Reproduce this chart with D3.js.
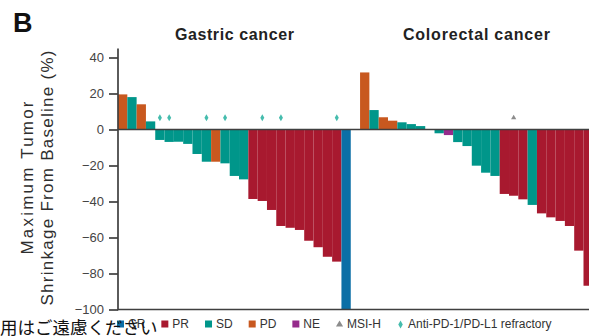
<!DOCTYPE html>
<html>
<head>
<meta charset="utf-8">
<script src="https://cdn.jsdelivr.net/npm/d3@7"></script>
<style>
  html, body { margin: 0; padding: 0; background: #fff; }
  svg { display: block; font-family: "Liberation Sans", Arial, sans-serif; }
</style>
</head>
<body>
<svg id="chart" width="589" height="336"></svg>
<script>
// Best change from baseline (%) per patient, sorted within each cohort
const gastricValues = [19.5, 18, 14, 4.5, -5.8, -6.9, -6.8, -8, -13.6, -17.9, -17.9, -18.8, -25.8, -27.7,
  -38.6, -39.7, -44.7, -53.6, -54.6, -55.8, -61.8, -65.4, -70.7, -73.4, -100];
const gastricResponse = ["PD", "SD", "PD", "SD", "SD", "SD", "SD", "SD", "SD", "SD", "PD", "SD", "SD", "SD",
  "PR", "PR", "PR", "PR", "PR", "PR", "PR", "PR", "PR", "PR", "CR"];
const gastricRefractory = [4, 5, 9, 11, 15, 17, 23];

const colorectalValues = [31.7, 10.8, 6.8, 4.9, 4, 3, 1.9, 0, -2.1, -3.1, -7, -9.2, -20.1, -24, -25.8,
  -35.8, -36.8, -38.8, -41.9, -46.6, -48.8, -50.8, -53.6, -67.3, -86.8];
const colorectalResponse = ["PD", "SD", "PD", "PD", "SD", "SD", "SD", "SD", "SD", "NE", "SD", "SD", "SD", "SD", "SD",
  "PR", "PR", "PR", "SD", "PR", "PR", "PR", "PR", "PR", "PR"];
const colorectalMSIH = [16];

const panelTitles = ["Gastric cancer", "Colorectal cancer"];
const yTicks = [-100, -80, -60, -40, -20, 0, 20, 40];
const legendKeys = ["CR", "PR", "SD", "PD", "NE", "MSI-H", "Anti-PD-1/PD-L1 refractory"];

const colors = { CR: "#0b6fa6", PR: "#a8192f", SD: "#00968a", PD: "#c8581f", NE: "#962b8c" };
const markerColors = { "MSI-H": "#8c8c8c", "Anti-PD-1/PD-L1 refractory": "#45bcad" };

// One continuous slot axis: 25 gastric slots, a spacer, then the colorectal slots
const gap = 1;
const rows = [];
gastricValues.forEach((v, i) => rows.push({ slot: i, value: v, resp: gastricResponse[i],
  refractory: gastricRefractory.includes(i), msih: false }));
colorectalValues.forEach((v, i) => rows.push({ slot: gastricValues.length + gap + i, value: v,
  resp: colorectalResponse[i], refractory: false, msih: colorectalMSIH.includes(i) }));
const nSlots = gastricValues.length + gap + colorectalValues.length + 1;

const svg = d3.select("#chart");
const left = 118;
const x = d3.scaleBand().domain(d3.range(nSlots)).range([left, left + nSlots * 9.31]).paddingInner(0);
const y = d3.scaleLinear().domain([-100, 45]).range([309.5, 48.5]);
const right = 589;

// Bars
svg.append("g").selectAll("rect").data(rows).join("rect")
  .attr("x", d => x(d.slot))
  .attr("width", x.bandwidth())
  .attr("y", d => Math.min(y(d.value), y(0)))
  .attr("height", d => Math.abs(y(d.value) - y(0)))
  .attr("fill", d => colors[d.resp]);

// Markers above the bars
const markerY = y(6.5);
svg.append("g").selectAll("path.ref").data(rows.filter(d => d.refractory)).join("path")
  .attr("class", "ref")
  .attr("transform", d => `translate(${x(d.slot) + x.bandwidth() / 2},${markerY})`)
  .attr("d", d3.symbol(d3.symbolDiamond, 14))
  .attr("fill", markerColors["Anti-PD-1/PD-L1 refractory"]);
svg.append("g").selectAll("path.msi").data(rows.filter(d => d.msih)).join("path")
  .attr("class", "msi")
  .attr("transform", d => `translate(${x(d.slot) + x.bandwidth() / 2},${markerY})`)
  .attr("d", d3.symbol(d3.symbolTriangle, 12))
  .attr("fill", markerColors["MSI-H"]);

// Zero line and bottom line
svg.append("line").attr("x1", left).attr("x2", right).attr("y1", y(0)).attr("y2", y(0))
  .attr("stroke", "#3f3f3f").attr("stroke-width", 1.7);
svg.append("line").attr("x1", left).attr("x2", right).attr("y1", y(-100)).attr("y2", y(-100))
  .attr("stroke", "#3f3f3f").attr("stroke-width", 1.7);

// Y axis
const axis = svg.append("g").attr("transform", `translate(${left},0)`)
  .call(d3.axisLeft(y).tickValues(yTicks).tickSize(9).tickPadding(5)
    .tickFormat(d => d < 0 ? "\u2212" + Math.abs(d) : String(d)));
axis.select(".domain").remove();
axis.selectAll(".tick line").attr("stroke", "#3f3f3f").attr("stroke-width", 1.7);
axis.selectAll(".tick text").attr("fill", "#444").style("font-size", "13px")
  .style("font-family", "'Liberation Sans', Arial, sans-serif");
svg.append("line").attr("x1", left).attr("x2", left).attr("y1", y(45)).attr("y2", y(-100) + 0.8)
  .attr("stroke", "#3f3f3f").attr("stroke-width", 1.7);

// Y axis title (two lines)
const yTitleY = 178;
svg.append("text").attr("transform", `translate(33,${yTitleY}) rotate(-90)`)
  .attr("text-anchor", "middle").attr("fill", "#2e2e2e").style("font-size", "17px")
  .attr("textLength", 153).attr("lengthAdjust", "spacing").text("Maximum Tumor");
svg.append("text").attr("transform", `translate(53,${yTitleY}) rotate(-90)`)
  .attr("text-anchor", "middle").attr("fill", "#2e2e2e").style("font-size", "17px")
  .attr("textLength", 255).attr("lengthAdjust", "spacing").text("Shrinkage From Baseline (%)");

// Panel titles
const gStart = x(0), gEnd = x(gastricValues.length - 1) + x.bandwidth();
const cStart = x(gastricValues.length + gap), cEnd = x(gastricValues.length + gap + colorectalValues.length - 1) + x.bandwidth();
const titleLens = [119, 147];
[[gStart, gEnd], [cStart, cEnd]].forEach(([a, b], i) => {
  svg.append("text").attr("x", (a + b) / 2).attr("y", 40).attr("text-anchor", "middle")
    .attr("fill", "#222").style("font-size", "16px").style("font-weight", "bold")
    .attr("textLength", titleLens[i]).attr("lengthAdjust", "spacing").text(panelTitles[i]);
});

// Panel letter
svg.append("text").attr("x", 13).attr("y", 32).attr("fill", "#111")
  .style("font-size", "27px").style("font-weight", "bold").text("B");

// Legend
const legend = svg.append("g").attr("transform", "translate(117,324)");
let lx = 0;
legendKeys.forEach(k => {
  const item = legend.append("g").attr("transform", `translate(${lx},0)`);
  if (colors[k]) {
    item.append("rect").attr("x", 0).attr("y", -3.5).attr("width", 7).attr("height", 7).attr("fill", colors[k]);
  } else {
    item.append("path").attr("transform", "translate(3.5,0.5)")
      .attr("d", d3.symbol(k === "MSI-H" ? d3.symbolTriangle : d3.symbolDiamond, k === "MSI-H" ? 22 : 18))
      .attr("fill", markerColors[k]);
  }
  const t = item.append("text").attr("x", 11).attr("y", 4.2).attr("fill", "#333")
    .style("font-size", "12px").text(k);
  lx += 11 + t.node().getComputedTextLength() + 16;
});

// Overlaid notice text along the bottom edge
svg.append("text").attr("x", 0).attr("y", 334).attr("fill", "#111")
  .style("font-family", "'Noto Sans CJK JP', sans-serif").style("font-size", "17.5px")
  .text("用はご遠慮ください");
</script>
</body>
</html>
